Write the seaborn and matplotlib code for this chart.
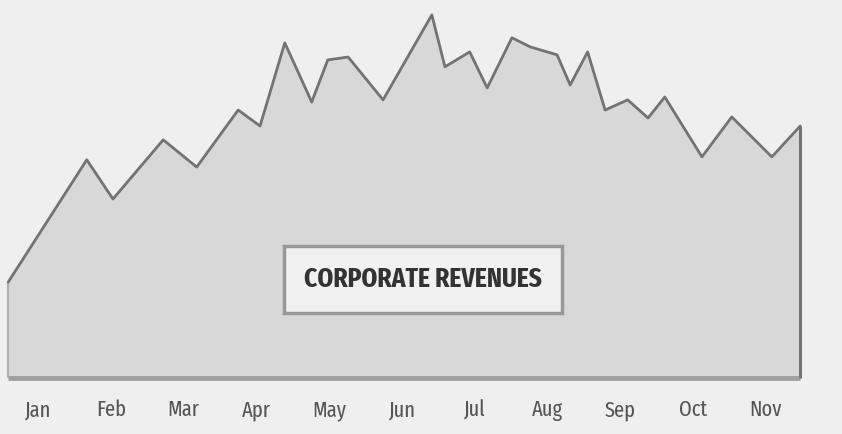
import matplotlib
matplotlib.use("Agg")
import os
import matplotlib.pyplot as plt
from matplotlib import font_manager
from matplotlib.patches import Rectangle
import seaborn as sns
import pandas as pd

# ---- data (x in months from Jan, y revenue in arbitrary units) ----
months = ["Jan", "Feb", "Mar", "Apr", "May", "Jun", "Jul", "Aug", "Sep", "Oct", "Nov"]
month_pos = [-0.41, 0.67, 1.03, 1.72, 2.18, 2.75, 3.05, 3.39, 3.76, 3.98, 4.26, 4.74,
             5.41, 5.59, 5.93, 6.17, 6.51, 6.76, 7.13, 7.31, 7.55, 7.79, 8.10, 8.38,
             8.61, 9.12, 9.53, 10.08, 10.47]
revenue = [26.4, 60.1, 49.3, 65.6, 58.1, 73.8, 69.4, 92.3, 76.0, 87.6, 88.4, 76.6,
           100.0, 85.7, 89.8, 79.9, 93.7, 91.2, 89.0, 80.7, 89.8, 73.8, 76.6, 71.6,
           77.4, 60.9, 71.9, 60.9, 69.4]
title = "CORPORATE REVENUES"

df = pd.DataFrame({"month": month_pos, "revenue": revenue})

sns.set_theme(style="white")
plt.rcParams["font.family"] = ["DejaVu Sans"]

BAD = ("oblique", "italic", "semibold", "extrabold", "black", "light", "thin",
       "medium", "demi", "heavy", "serif", "mono")


def find_font(bold):
    files = []
    for f in font_manager.fontManager.ttflist:
        base = os.path.basename(f.fname).lower().replace("-", "").replace("_", "")
        if not ("narrow" in base or "condensed" in base):
            continue
        if any(b in base for b in BAD):
            continue
        if ("bold" in base) != bold:
            continue
        files.append((base, f.fname))
    files.sort()
    for key in ("extracondensed", "narrow", "condensed"):
        for base, fn in files:
            if key in base and (key != "condensed" or "semicondensed" not in base):
                return font_manager.FontProperties(fname=fn)
    if files:
        return font_manager.FontProperties(fname=files[0][1])
    return font_manager.FontProperties(family="DejaVu Sans",
                                       weight="bold" if bold else "normal")


fp_reg = find_font(False)
fp_bold = find_font(True)

BG = "#efefef"
FILL = "#d8d8d8"
LINE = "#737373"

fig = plt.figure(figsize=(8.42, 4.34), dpi=100, facecolor=BG)
ax = fig.add_axes([0, 0, 1, 1])
ax.set_facecolor(BG)

ax.fill_between(df["month"], 0, df["revenue"], color=FILL, lw=0, zorder=1)
sns.lineplot(data=df, x="month", y="revenue", ax=ax, color=LINE, lw=2.0,
             sort=False, zorder=3)
# area edges
ax.vlines(df["month"].iloc[-1], 0, df["revenue"].iloc[-1], color=LINE, lw=2.2, zorder=3)
ax.vlines(df["month"].iloc[0], 0, df["revenue"].iloc[0], color="#b0b0b0", lw=1.5, zorder=2)
ax.hlines(0, df["month"].iloc[0], df["month"].iloc[-1], color="#a0a0a0", lw=3.5, zorder=2)

ax.set_xlim(-0.522, 11.044)
ax.set_ylim(-15.4, 104.1)
ax.set_xticks([])
ax.set_yticks([])
ax.set_xlabel("")
ax.set_ylabel("")
for s in ax.spines.values():
    s.set_visible(False)

fig.canvas.draw()
renderer = fig.canvas.get_renderer()

for i, m in enumerate(months):
    t = ax.text(i, -8.8, m, ha="center", va="center", color="#555555",
                fontproperties=fp_reg)
    t.set_fontsize(16)

# title box
ax.add_patch(Rectangle((3.38, 17.9), 3.82, 18.5, facecolor="#f1f1f1",
                       edgecolor="#989898", linewidth=2.5, zorder=4))
tt = ax.text(5.29, 27.3, title, ha="center", va="center", color="#333333",
             fontproperties=fp_bold, zorder=5)
# fit the title to about 238 px wide, at most 20 pt
size = 20.0
tt.set_fontsize(size)
w = tt.get_window_extent(renderer).width
tt.set_fontsize(min(size, size * 238.0 / w))

fig.savefig("out.png", dpi=100, facecolor=BG)
